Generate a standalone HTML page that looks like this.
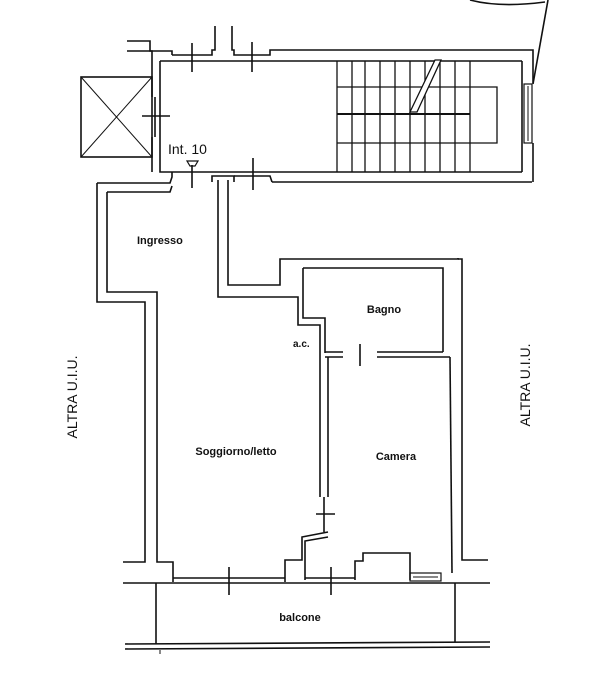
<!DOCTYPE html>
<html><head><meta charset="utf-8"><style>
html,body{margin:0;padding:0;background:#fff;}
svg{display:block;}
text{font-family:"Liberation Sans",sans-serif;fill:#111;}
</style></head><body>
<svg width="600" height="679" viewBox="0 0 600 679" xmlns="http://www.w3.org/2000/svg">
<g fill="none" stroke="#111" stroke-width="1.6" stroke-linejoin="miter">
<!-- top curve -->
<path d="M470 0 Q500 8 545 2"/>
<line x1="548" y1="0" x2="533" y2="84"/>
<!-- top-left wall fragments -->
<polyline points="127,41 150,41 150,51 172,51 172,55"/>
<polyline points="127,51 152,51 152,97"/>
<line x1="160" y1="61" x2="160" y2="97"/>
<line x1="155" y1="97" x2="155" y2="137"/>
<line x1="160" y1="97" x2="160" y2="137"/>
<polyline points="152,137 152,172"/>
<polyline points="160,137 160,172 172,172"/>
<!-- top wall of hall -->
<polyline points="172,55 212,55 212,50 215,50 215,26"/>
<polyline points="232,26 232,50 234,50 234,55 270,55 270,50 533,50 533,83"/>
<line x1="160" y1="61" x2="522" y2="61"/>
<line x1="522" y1="61" x2="522" y2="172"/>
<line x1="533" y1="143" x2="533" y2="182"/>
<rect x="524" y="84" width="8" height="59" stroke-width="1.2"/>
<line x1="528" y1="86" x2="528" y2="141" stroke-width="1"/>
<!-- bottom wall of hall -->
<polyline points="172,172 522,172"/>
<polyline points="272,182 532,182"/>
<polyline points="97,183 170,183 172,177 172,172"/>
<polyline points="107,192 170,192 172,186"/>
<polyline points="212,182 212,176 234,176 234,182"/>
<line x1="218" y1="180" x2="218" y2="192"/>
<line x1="228" y1="180" x2="228" y2="192"/>
<polyline points="234,176 270,176 272,182"/>
<!-- door ticks hall -->
<line x1="192" y1="43" x2="192" y2="72"/>
<line x1="252" y1="42" x2="252" y2="72"/>
<line x1="142" y1="116" x2="170" y2="116"/>
<line x1="192" y1="165" x2="192" y2="188"/>
<line x1="253" y1="158" x2="253" y2="190"/>
<polygon points="187,161 198,161 195,166 190,166" stroke-width="1.2"/>
<!-- elevator -->
<rect x="81" y="77" width="71" height="80"/>
<line x1="81" y1="77" x2="152" y2="157" stroke-width="1"/>
<line x1="152" y1="77" x2="81" y2="157" stroke-width="1"/>
<!-- stairs -->
<g stroke-width="1.3">
<line x1="337" y1="61" x2="337" y2="172"/>
<line x1="352" y1="61" x2="352" y2="172"/>
<line x1="365" y1="61" x2="365" y2="172"/>
<line x1="380" y1="61" x2="380" y2="172"/>
<line x1="395" y1="61" x2="395" y2="172"/>
<line x1="410" y1="61" x2="410" y2="172"/>
<line x1="425" y1="61" x2="425" y2="172"/>
<line x1="440" y1="61" x2="440" y2="172"/>
<line x1="455" y1="61" x2="455" y2="172"/>
<line x1="470" y1="61" x2="470" y2="172"/>
<polyline points="337,87 497,87 497,143 337,143"/>
<line x1="337" y1="114" x2="470" y2="114" stroke-width="2"/>
</g>
<polygon points="410,112 435,60 441,60 417,112" fill="#fff" stroke-width="1.3"/>
<!-- Ingresso / left walls -->
<polyline points="97,183 97,302 145,302 145,562 123,562"/>
<polyline points="107,192 107,292 157,292 157,562 173,562 173,582"/>
<!-- corridor -->
<polyline points="218,192 218,297 298,297 298,325 320,325 320,497"/>
<polyline points="228,192 228,285 280,285 280,259 458,259 458,258"/>
<polyline points="458,259 462,259 462,560 488,560"/>
<!-- bagno -->
<polyline points="303,268 443,268 443,352"/>
<polyline points="303,268 303,318 325,318 325,353"/>
<line x1="325" y1="352" x2="343" y2="352"/>
<line x1="325" y1="357" x2="343" y2="357"/>
<line x1="377" y1="352" x2="443" y2="352"/>
<line x1="377" y1="357" x2="450" y2="357"/>
<line x1="360" y1="344" x2="360" y2="366"/>
<!-- soggiorno/camera wall -->
<line x1="328" y1="357" x2="328" y2="497"/>
<line x1="324" y1="497" x2="324" y2="532"/>
<line x1="316" y1="514" x2="335" y2="514"/>
<polyline points="328,532 302,537 302,560 285,560 285,582"/>
<polyline points="328,537 305,541 305,580"/>
<!-- camera right -->
<line x1="450" y1="357" x2="452" y2="573"/>
<!-- bottom -->
<line x1="173" y1="578" x2="285" y2="578"/>
<line x1="305" y1="578" x2="355" y2="578"/>
<polyline points="355,580 355,561 363,561 363,553 410,553 410,580"/>
<rect x="410" y="573" width="31" height="8" stroke-width="1.2"/>
<line x1="413" y1="577" x2="438" y2="577" stroke-width="1"/>
<line x1="123" y1="583" x2="490" y2="583"/>
<line x1="229" y1="567" x2="229" y2="595"/>
<line x1="331" y1="567" x2="331" y2="595"/>
<!-- balcone -->
<line x1="156" y1="583" x2="156" y2="644"/>
<line x1="455" y1="583" x2="455" y2="642"/>
<line x1="125" y1="644" x2="490" y2="642"/>
<line x1="125" y1="649" x2="490" y2="647"/>
<line x1="160" y1="650" x2="160" y2="654" stroke-width="1"/>
</g>
<text x="168" y="154" font-size="14">Int. 10</text>
<text x="137" y="244" font-size="11" font-weight="bold">Ingresso</text>
<text x="384" y="313" font-size="11" font-weight="bold" text-anchor="middle">Bagno</text>
<text x="293" y="347" font-size="10" font-weight="bold">a.c.</text>
<text x="236" y="455" font-size="11" font-weight="bold" text-anchor="middle">Soggiorno/letto</text>
<text x="396" y="460" font-size="11" font-weight="bold" text-anchor="middle">Camera</text>
<text x="300" y="621" font-size="11" font-weight="bold" text-anchor="middle">balcone</text>
<text transform="translate(77,397) rotate(-90)" font-size="14" text-anchor="middle">ALTRA U.I.U.</text>
<text transform="translate(530,385) rotate(-90)" font-size="14" text-anchor="middle">ALTRA U.I.U.</text>
</svg>
</body></html>
